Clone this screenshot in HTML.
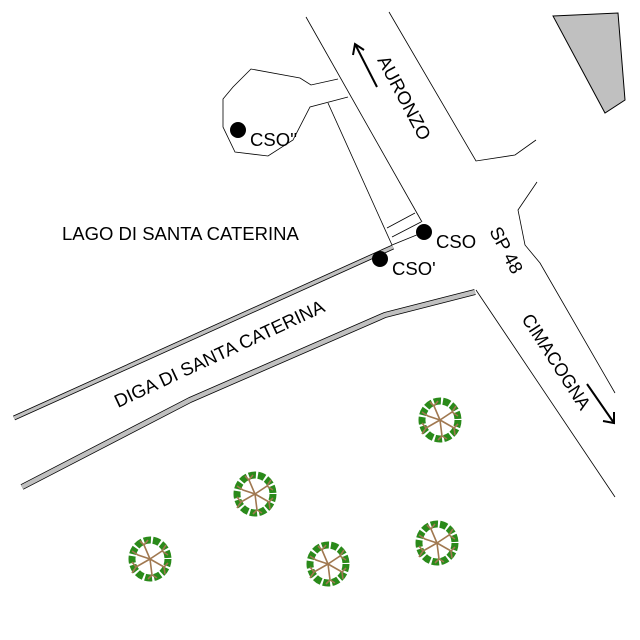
<!DOCTYPE html>
<html><head><style>html,body{margin:0;padding:0;background:#fff}svg{display:block}</style></head><body>
<svg width="640" height="640" viewBox="0 0 640 640" xmlns="http://www.w3.org/2000/svg" font-family="Liberation Sans, sans-serif">
<defs>
<g id="tree">
<ellipse cx="0" cy="0" rx="18" ry="19" fill="none" stroke="#2a8a1a" stroke-width="7" stroke-dasharray="7 2"/>
<g stroke="#a07850" stroke-width="1.6" fill="none">
<path d="M0 0 L-6 -14 L-10 -18 M-6 -14 L-2 -19"/>
<path d="M0 0 L12 -8 L16 -14 M12 -8 L18 -4"/>
<path d="M0 0 L14 8 L18 4 M14 8 L15 15"/>
<path d="M0 0 L2 16 L-2 20 M2 16 L7 19"/>
<path d="M0 0 L-14 8 L-18 14 M-14 8 L-18 3"/>
<path d="M0 0 L-12 -4 L-18 -8"/>
</g>
</g>
</defs>
<polygon points="553,16 618,13 625,100 605,113" fill="#c0c0c0" stroke="#000" stroke-width="1"/>
<g fill="none" stroke="#000" stroke-width="0.8">
<line x1="306" y1="17" x2="422" y2="222"/>
<polyline points="389,12 476,161 515,155 536,140"/>
<polyline points="537,182 518,210 525,245 540,263 615,393"/>
<line x1="476" y1="290" x2="615" y2="497"/>
<polyline points="338,79 311,85 300,78 251,69 233,87 223,99 223,127 235,152 268,156 293,140 310,107 348,97"/>
<line x1="328" y1="103" x2="392" y2="245"/>
<line x1="387" y1="228" x2="415" y2="213"/>
<line x1="392" y1="237" x2="421" y2="222"/>
<line x1="392" y1="245" x2="424" y2="232"/>
</g>
<g fill="none" stroke-linejoin="round">
<polyline points="14,418 393,247" stroke="#000" stroke-width="5"/>
<polyline points="14,418 393,247" stroke="#c0c0c0" stroke-width="3.4"/>
<polyline points="22,487 190,400 385,315 475,292" stroke="#000" stroke-width="6"/>
<polyline points="22,487 190,400 385,315 475,292" stroke="#c0c0c0" stroke-width="4.4"/>
</g>
<g fill="#000">
<circle cx="424" cy="232" r="8"/>
<circle cx="380" cy="259" r="8"/>
<circle cx="238" cy="130" r="8"/>
</g>
<g stroke="#000" stroke-width="2" fill="none">
<line x1="377" y1="87" x2="355" y2="44"/><polyline points="353,55 355,44 364,50"/>
<line x1="587" y1="384" x2="614" y2="423"/><polyline points="603,421 614,423 614,412"/>
</g>
<g font-size="18.5" fill="#000">
<text x="62" y="240">LAGO DI SANTA CATERINA</text>
<text x="436" y="248">CSO</text>
<text x="392" y="275">CSO'</text>
<text x="250" y="146">CSO''</text>
<text transform="translate(118,408) rotate(-25)">DIGA DI SANTA CATERINA</text>
<text transform="translate(377,60) rotate(62)">AURONZO</text>
<text transform="translate(489,231) rotate(62)">SP 48</text>
<text transform="translate(521,319) rotate(57)" textLength="110" lengthAdjust="spacingAndGlyphs">CIMACOGNA</text>
</g>
<use href="#tree" x="440" y="420"/>
<use href="#tree" x="255" y="494"/>
<use href="#tree" x="150" y="559"/>
<use href="#tree" x="328" y="564"/>
<use href="#tree" x="437" y="543"/>
</svg>
</body></html>
